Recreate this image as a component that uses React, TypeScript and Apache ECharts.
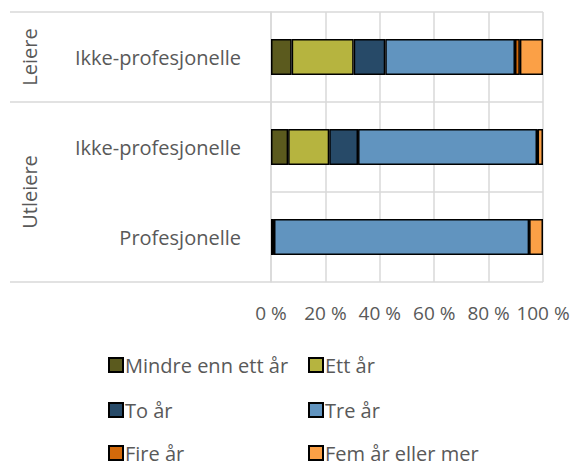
import React, { useEffect, useRef } from "react";
import * as echarts from "echarts";

const categories = ["Ikke-profesjonelle", "Ikke-profesjonelle ", "Profesjonelle"];
const groups = ["Leiere", "Utleiere"];
const seriesNames = ["Mindre enn ett år", "Ett år", "To år", "Tre år", "Fire år", "Fem år eller mer"];
const mindre = [7.6, 6.3, 0.8];
const ett = [22.8, 15.1, 0.1];
const to = [11.6, 10.6, 0.2];
const tre = [47.7, 65.8, 93.8];
const fire = [1.8, 0.2, 0];
const fem = [8.5, 2.0, 5.1];
const xTicks = [0, 20, 40, 60, 80, 100];

const colors = ["#5B5A1E", "#B6B43F", "#274A68", "#6194BF", "#D2690B", "#FBA046"];
const values = [mindre, ett, to, tre, fire, fem];

export default function App() {
  const ref = useRef<HTMLDivElement>(null);
  useEffect(() => {
    if (!ref.current) return;
    const chart = echarts.init(ref.current, undefined, { renderer: "svg" });
    const font = "'Open Sans', 'Liberation Sans', sans-serif";
    const textColor = "#595959";
    const gridColor = "#D9D9D9";
    const fs = 20;
    const legendLefts = [108, 308];
    const legendTops = [355, 400, 443];
    chart.setOption({
      animation: false,
      textStyle: { fontFamily: font },
      grid: { left: 271, right: 33, top: 12, bottom: 184 },
      xAxis: {
        type: "value",
        min: xTicks[0],
        max: xTicks[xTicks.length - 1],
        interval: 20,
        axisLabel: { formatter: "{value} %", color: textColor, fontSize: 19, margin: 21, fontFamily: font },
        axisLine: { show: false },
        axisTick: { show: false },
        splitLine: { show: true, lineStyle: { color: gridColor, width: 1.5 } },
      },
      yAxis: {
        type: "category",
        inverse: true,
        data: categories,
        axisLabel: {
          color: textColor,
          fontSize: fs,
          margin: 30,
          fontFamily: font,
          formatter: (v: string) => v.trim(),
        },
        axisLine: { show: true, lineStyle: { color: gridColor, width: 1.5 } },
        axisTick: { show: false },
        splitLine: { show: true, lineStyle: { color: gridColor, width: 1.5 } },
      },
      legend: seriesNames.map((name, i) => ({
        orient: "horizontal",
        left: legendLefts[i % 2],
        top: legendTops[Math.floor(i / 2)],
        padding: 0,
        itemWidth: 14,
        itemHeight: 14,
        icon: "rect",
        data: [name],
        textStyle: { color: textColor, fontSize: fs, lineHeight: 20, fontFamily: font, padding: [0, 0, 0, -3] },
      })),
      series: seriesNames.map((name, i) => ({
        name,
        type: "bar",
        stack: "total",
        barWidth: 36,
        data: values[i],
        itemStyle: { color: colors[i], borderColor: "#000", borderWidth: 1.5 },
      })),
      graphic: [
        { type: "line", shape: { x1: 10, y1: 12, x2: 271, y2: 12 }, style: { stroke: gridColor, lineWidth: 1.5 } },
        { type: "line", shape: { x1: 10, y1: 102, x2: 271, y2: 102 }, style: { stroke: gridColor, lineWidth: 1.5 } },
        { type: "line", shape: { x1: 10, y1: 282, x2: 271, y2: 282 }, style: { stroke: gridColor, lineWidth: 1.5 } },
        {
          type: "text",
          x: 29,
          y: 57,
          rotation: Math.PI / 2,
          style: { text: groups[0], fill: textColor, fontSize: fs, fontFamily: font, align: "center", verticalAlign: "middle" },
        },
        {
          type: "text",
          x: 29,
          y: 192,
          rotation: Math.PI / 2,
          style: { text: groups[1], fill: textColor, fontSize: fs, fontFamily: font, align: "center", verticalAlign: "middle" },
        },
      ],
    });
    return () => chart.dispose();
  }, []);
  return <div ref={ref} style={{ position: "absolute", left: 0, top: 0, width: 576, height: 466 }} />;
}
